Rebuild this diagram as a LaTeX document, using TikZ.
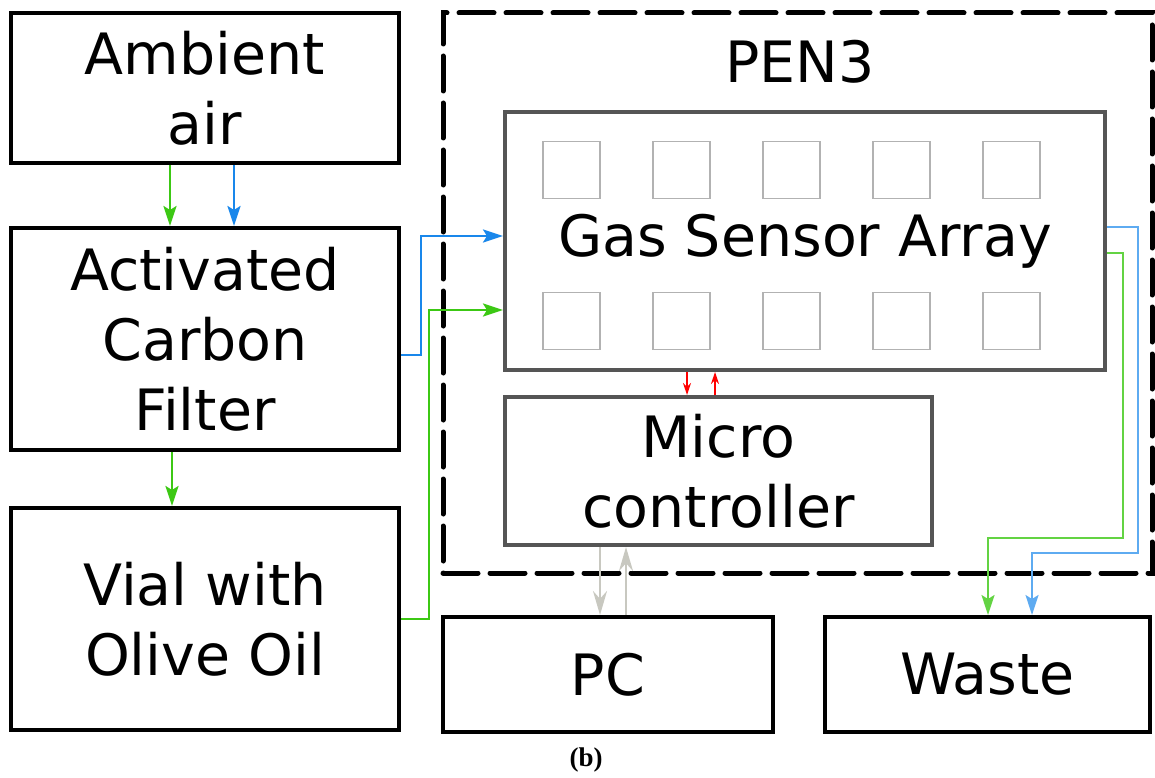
\documentclass[tikz,border=0pt]{standalone}
\usepackage{fontspec}
\setmainfont{DejaVu Sans}
\newfontfamily\captionfont{Liberation Serif}
\usetikzlibrary{arrows.meta}

\definecolor{flowgreen}{RGB}{60,200,20}
\definecolor{flowblue}{RGB}{25,135,235}
\definecolor{linkgray}{RGB}{200,200,192}
\definecolor{boxgray}{RGB}{85,85,85}

\tikzset{
  unitbox/.style={draw, line width=4pt, inner sep=0pt, align=center,
    font=\fontsize{57}{70}\selectfont},
  innerbox/.style={unitbox, draw=boxgray},
  sensorbox/.style={draw=gray!60, line width=1.3pt, minimum size=57pt, inner sep=0pt},
  flowtip/.style={-{Stealth[length=20pt,width=13pt,inset=4pt]}},
  greenflow/.style={flowgreen, line width=2.5pt, flowtip},
  blueflow/.style={flowblue, line width=2.5pt, flowtip},
  redlink/.style={red, line width=1.5pt, -{Stealth[length=12pt,width=8pt]}},
  graylink/.style={linkgray, line width=2.5pt, -{Stealth[length=24pt,width=14pt]}}
}

\begin{document}
\begin{tikzpicture}[x=1pt, y=-1pt]
  \useasboundingbox (0,0) rectangle (1155,778);

  % Left column of boxes
  \node[unitbox, minimum width=388pt, minimum height=150pt] (air) at (205,88) {Ambient\\air};
  \node[unitbox, minimum width=388pt, minimum height=222pt] (filter) at (205,339) {Activated\\Carbon\\Filter};
  \node[unitbox, minimum width=388pt, minimum height=222pt] (vial) at (205,619) {Vial with\\Olive Oil};

  % PEN3 device (dashed frame)
  \node[draw, line width=5pt, line cap=round, dash pattern=on 35pt off 12pt,
        minimum width=709pt, minimum height=560pt] (pen) at (797.5,293) {};
  \node[font=\fontsize{57}{70}\selectfont] (penlabel) at (800,62) {PEN3};
  \node[innerbox, minimum width=600pt, minimum height=258pt] (array) at (805,241) {Gas Sensor Array};
  \node[innerbox, minimum width=427pt, minimum height=148pt] (micro) at (718.5,471) {Micro\\controller};

  % Sensor squares
  \foreach \i in {0,1,...,4} {
    \node[sensorbox] (top\i) at ({571.5+110*\i},170) {};
    \node[sensorbox] (bot\i) at ({571.5+110*\i},321) {};
  }

  % Bottom boxes
  \node[unitbox, minimum width=330pt, minimum height=115pt] (pc) at (608,674.5) {PC};
  \node[unitbox, minimum width=325pt, minimum height=115pt] (waste) at (987.5,674.5) {Waste};
  \node[font=\captionfont\bfseries\fontsize{27}{30}\selectfont] (caption) at (586,760) {(b)};

  % Gas flow
  \draw[greenflow] ([xshift=-35pt]air.south) -- ([xshift=-35pt]filter.north);
  \draw[blueflow] ([xshift=29pt]air.south) -- ([xshift=29pt]filter.north);
  \draw[greenflow] ([xshift=-33pt]filter.south) -- ([xshift=-33pt]vial.north);
  \draw[blueflow] ([yshift=-16pt]filter.east) -- ++(20,0) |- ([yshift=5pt]array.west);
  \draw[greenflow] (vial.east) -- ++(28,0) |- ([yshift=-69pt]array.west);
  \draw[flowblue!70, line width=1.8pt, flowtip]
    ([yshift=14pt]array.east) -- ++(31,0) -- ++(0,326) -| ([xshift=44.5pt]waste.north);
  \draw[flowgreen!80, line width=1.8pt, flowtip]
    ([yshift=-12pt]array.east) -- ++(16,0) -- ++(0,285) -| ([xshift=0.5pt]waste.north);

  % Signals
  \draw[redlink] ([xshift=-118pt]array.south) -- ([xshift=-118pt]array.south |- micro.north);
  \draw[redlink] ([xshift=-90pt]array.south |- micro.north) -- ([xshift=-90pt]array.south);
  \draw[graylink] ([xshift=-118.5pt]micro.south) -- ([xshift=-118.5pt]micro.south |- pc.north);
  \draw[graylink] ([xshift=-92.5pt]micro.south |- pc.north) -- ([xshift=-92.5pt]micro.south);
\end{tikzpicture}
\end{document}
